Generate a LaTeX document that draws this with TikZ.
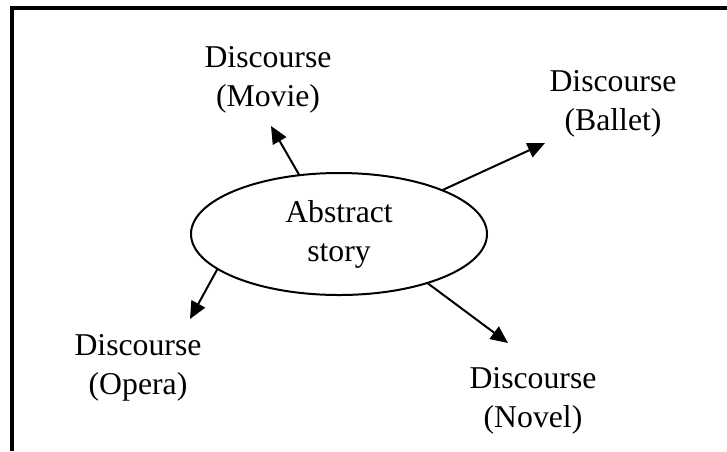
\documentclass[tikz,border=0pt]{standalone}
\usepackage{fontspec}
\setmainfont{Liberation Serif}
\usetikzlibrary{arrows.meta,shapes.geometric}
\tikzset{
  label text/.style={align=center, font=\fontsize{23.8}{29.3}\selectfont, inner sep=0pt},
  pointer/.style={line width=1.5pt, -{Triangle[length=13pt,width=11.5pt]}},
}
\begin{document}
\begin{tikzpicture}[x=0.75pt,y=-0.75pt]
    \useasboundingbox (0,0) rectangle (727,451);
    % Frame (top and left edges)
    \draw[line width=2.3pt] (727,8) -- (12,8) -- (12,451);

    % Centre node
    \node[draw, ellipse, line width=1.5pt, minimum width=222pt, minimum height=91.5pt,
          outer sep=0pt, label text] (story) at (339,234) {Abstract\\story};

    % Discourse nodes
    \node[label text] (movie) at (268,80) {Discourse\\(Movie)};
    \node[label text] (ballet) at (613,104) {Discourse\\(Ballet)};
    \node[label text] (opera) at (138,368) {Discourse\\(Opera)};
    \node[label text] (novel) at (533,401) {Discourse\\(Novel)};

    % Arrow tips
    \coordinate (movie tip) at (271,126);
    \coordinate (ballet tip) at (545,143);
    \coordinate (opera tip) at (190,319);
    \coordinate (novel tip) at (508,343);

    % Arrows
    \draw[pointer] (story.124.5) -- (movie tip);
    \draw[pointer] (story.23.5) -- (ballet tip);
    \draw[pointer] (story.196) -- (opera tip);
    \draw[pointer] (story.331.6) -- (novel tip);
\end{tikzpicture}
\end{document}
